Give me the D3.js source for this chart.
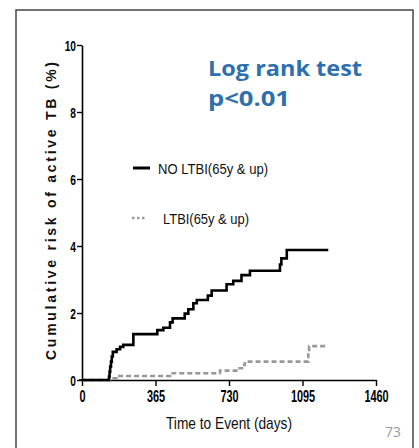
<!DOCTYPE html>
<html>
<head>
<meta charset="utf-8">
<script src="https://cdn.jsdelivr.net/npm/d3@7"></script>
<style>
  html, body { margin: 0; padding: 0; background: #fff; }
  svg { display: block; }
  .tick text { font-family: "Liberation Sans", Arial, sans-serif; font-weight: bold; }
</style>
</head>
<body>
<svg id="chart" width="419" height="448"></svg>
<script>
// Kaplan-Meier style cumulative risk curves (step events: day, cumulative %)
const noLtbiDays   = [0, 134, 137, 140, 144, 148, 153, 172, 189, 205, 255, 374, 404, 437, 450, 510, 528, 553, 570, 625, 644, 718, 751, 792, 834, 983, 990, 1017, 1223];
const noLtbiValues = [0, 0.1, 0.25, 0.4, 0.55, 0.7, 0.84, 0.92, 0.99, 1.05, 1.37, 1.49, 1.56, 1.72, 1.84, 1.98, 2.11, 2.29, 2.39, 2.52, 2.67, 2.86, 2.96, 3.13, 3.26, 3.45, 3.63, 3.88, 3.88];
const ltbiDays     = [0, 150, 175, 437, 685, 776, 795, 809, 1124, 1128, 1207];
const ltbiValues   = [0, 0.05, 0.12, 0.2, 0.28, 0.35, 0.45, 0.55, 0.8, 1.01, 1.01];

const xTicks = [0, 365, 730, 1095, 1460];
const yTicks = [0, 2, 4, 6, 8, 10];
const seriesNames = ["NO LTBI(65y & up)", "LTBI(65y & up)"];

const svg = d3.select("#chart");
const narrow = "Liberation Sans, Arial, sans-serif";

// slide frame
svg.append("rect")
  .attr("x", 16).attr("y", 10)
  .attr("width", 397).attr("height", 460)
  .attr("fill", "none").attr("stroke", "#444").attr("stroke-width", 1.5);

const x = d3.scaleLinear().domain([0, 1460]).range([82, 376]);
const y = d3.scaleLinear().domain([0, 10]).range([380, 45]);

// axes
const yAxis = svg.append("g")
  .attr("transform", `translate(${x(0)},0)`)
  .call(d3.axisLeft(y).tickValues(yTicks).tickFormat(d3.format("d")).tickSize(5).tickSizeOuter(0));
const xAxis = svg.append("g")
  .attr("transform", `translate(0,${y(0)})`)
  .call(d3.axisBottom(x).tickValues(xTicks).tickFormat(d3.format("d")).tickSize(6).tickSizeOuter(0));
[yAxis, xAxis].forEach(g => {
  g.select(".domain").attr("stroke", "#000").attr("stroke-width", 1.6);
  g.selectAll(".tick line").attr("stroke", "#000").attr("stroke-width", 1.4);
  g.selectAll(".tick text").attr("fill", "#000");
});
// condensed tick labels
const ySx = 0.68, xSx = 0.64;
yAxis.selectAll(".tick text")
  .attr("font-size", 15)
  .attr("x", -6 / ySx).attr("dy", "0.34em")
  .attr("transform", `scale(${ySx},1)`);
xAxis.selectAll(".tick text")
  .attr("font-size", 17)
  .attr("y", 10).attr("dy", "0.71em")
  .attr("transform", `scale(${xSx},1)`);
// x axis starts a little left of the y axis
svg.append("line")
  .attr("x1", x(0) - 3).attr("x2", x(0))
  .attr("y1", y(0)).attr("y2", y(0))
  .attr("stroke", "#000").attr("stroke-width", 1.6);

// axis titles
svg.append("text")
  .attr("transform", `translate(56,${(62 + 360) / 2}) rotate(-90)`)
  .attr("text-anchor", "middle")
  .attr("font-family", narrow)
  .attr("font-weight", "bold").attr("font-size", 14)
  .attr("textLength", 298).attr("lengthAdjust", "spacing")
  .attr("fill", "#111")
  .text("Cumulative risk of active TB (%)");

svg.append("text")
  .attr("x", 166).attr("y", 429)
  .attr("font-family", narrow)
  .attr("font-size", 17)
  .attr("textLength", 126).attr("lengthAdjust", "spacingAndGlyphs")
  .attr("fill", "#111")
  .text("Time to Event (days)");

// curves
const line = d3.line()
  .x(d => x(d[0]))
  .y(d => y(d[1]))
  .curve(d3.curveStepAfter);

svg.append("path")
  .datum(ltbiDays.map((d, i) => [d, ltbiValues[i]]))
  .attr("d", line)
  .attr("fill", "none")
  .attr("stroke", "#999")
  .attr("stroke-width", 2.6)
  .attr("stroke-dasharray", "5,3");

svg.append("path")
  .datum(noLtbiDays.map((d, i) => [d, noLtbiValues[i]]))
  .attr("d", line)
  .attr("fill", "none")
  .attr("stroke", "#000")
  .attr("stroke-width", 2.6);

// legend
const legend = svg.append("g");
legend.append("line")
  .attr("x1", 133).attr("x2", 150).attr("y1", 168).attr("y2", 168)
  .attr("stroke", "#000").attr("stroke-width", 3);
legend.append("text")
  .attr("x", 158).attr("y", 174)
  .attr("font-family", narrow)
  .attr("font-size", 15).attr("fill", "#111")
  .attr("textLength", 110).attr("lengthAdjust", "spacingAndGlyphs")
  .text(seriesNames[0]);
legend.append("line")
  .attr("x1", 132).attr("x2", 147).attr("y1", 218).attr("y2", 218)
  .attr("stroke", "#999").attr("stroke-width", 2.4).attr("stroke-dasharray", "2.5,2.5");
legend.append("text")
  .attr("x", 163).attr("y", 224)
  .attr("font-family", narrow)
  .attr("font-size", 15).attr("fill", "#111")
  .attr("textLength", 86).attr("lengthAdjust", "spacingAndGlyphs")
  .text(seriesNames[1]);

// test annotation
const note = svg.append("g")
  .attr("font-family", "Open Sans, Lato, sans-serif")
  .attr("font-weight", "bold").attr("font-size", 22)
  .attr("fill", "#2e6fae");
note.append("text").attr("x", 208).attr("y", 76)
  .attr("textLength", 154).attr("lengthAdjust", "spacingAndGlyphs")
  .text("Log rank test");
note.append("text").attr("x", 208).attr("y", 106)
  .attr("textLength", 82).attr("lengthAdjust", "spacingAndGlyphs")
  .text("p<0.01");

// slide number
svg.append("text")
  .attr("x", 385).attr("y", 437)
  .attr("font-family", "Open Sans, sans-serif")
  .attr("font-size", 14).attr("fill", "#999")
  .text("73");
</script>
</body>
</html>
